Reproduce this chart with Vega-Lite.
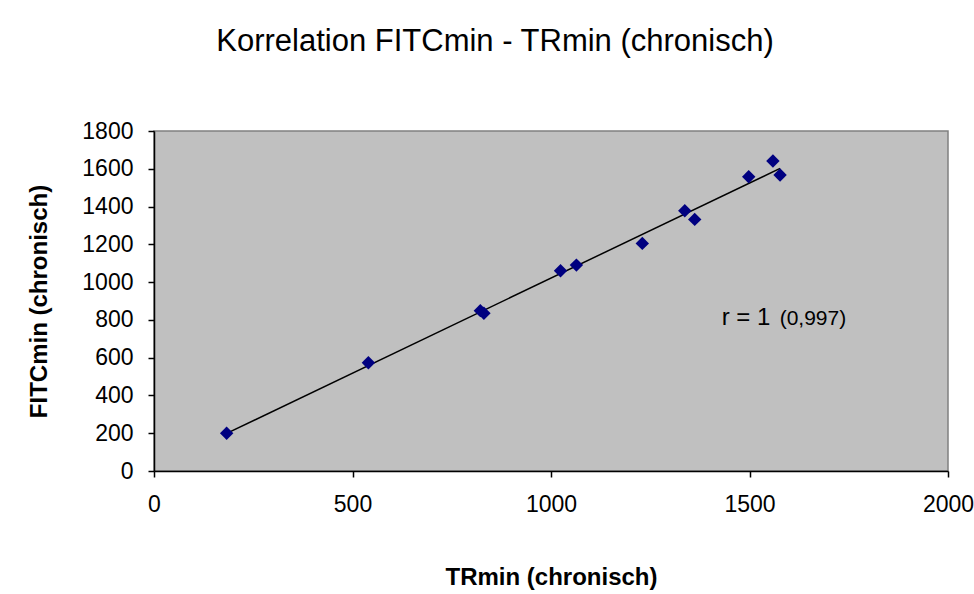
{
  "$schema": "https://vega.github.io/schema/vega-lite/v6.json",
  "width": 794,
  "height": 340,
  "autosize": {"type": "none"},
  "padding": {"left": 154, "top": 131, "right": 26, "bottom": 123},
  "background": "white",
  "config": {
    "view": {"fill": "#C0C0C0", "stroke": "#808080", "strokeWidth": 1.5},
    "font": "Liberation Sans"
  },
  "title": {
    "text": "Korrelation FITCmin - TRmin (chronisch)",
    "fontSize": 31,
    "font": "Liberation Sans",
    "fontWeight": "normal",
    "color": "black",
    "anchor": "middle",
    "dx": -56,
    "offset": 62
  },
  "data": {
    "values": [
      {"TR": 183, "FITC": 200},
      {"TR": 540, "FITC": 573},
      {"TR": 822, "FITC": 849},
      {"TR": 831, "FITC": 835},
      {"TR": 1024, "FITC": 1060},
      {"TR": 1064, "FITC": 1090},
      {"TR": 1230, "FITC": 1205},
      {"TR": 1337, "FITC": 1378},
      {"TR": 1362, "FITC": 1332},
      {"TR": 1498, "FITC": 1558},
      {"TR": 1559, "FITC": 1641},
      {"TR": 1577, "FITC": 1567}
    ]
  },
  "layer": [
    {
      "transform": [{"regression": "FITC", "on": "TR"}],
      "mark": {"type": "line", "color": "black", "strokeWidth": 1.5},
      "encoding": {
        "x": {"field": "TR", "type": "quantitative"},
        "y": {"field": "FITC", "type": "quantitative"}
      }
    },
    {
      "mark": {"type": "point", "shape": "diamond", "filled": true, "color": "#000080", "size": 180, "opacity": 1},
      "encoding": {
        "x": {
          "field": "TR",
          "type": "quantitative",
          "scale": {"domain": [0, 2000], "nice": false, "zero": true},
          "axis": {
            "title": "TRmin (chronisch)",
            "values": [0, 500, 1000, 1500, 2000],
            "tickCount": 20,
            "format": "d",
            "labelOverlap": false,
            "grid": false,
            "domainColor": "black",
            "domainWidth": 1.5,
            "tickColor": "black",
            "tickWidth": 1.5,
            "tickSize": 6,
            "labelPadding": 16,
            "labelFontSize": 23,
            "labelColor": "black",
            "labelFont": "Liberation Sans",
            "labelFlush": false,
            "titleFontSize": 24,
            "titleFont": "Liberation Sans",
            "titleFontWeight": "bold",
            "titleColor": "black",
            "titlePadding": 49
          }
        },
        "y": {
          "field": "FITC",
          "type": "quantitative",
          "scale": {"domain": [0, 1800], "nice": false},
          "axis": {
            "title": "FITCmin (chronisch)",
            "values": [0, 200, 400, 600, 800, 1000, 1200, 1400, 1600, 1800],
            "tickCount": 20,
            "format": "d",
            "labelOverlap": false,
            "grid": false,
            "domainColor": "black",
            "domainWidth": 1.5,
            "tickColor": "black",
            "tickWidth": 1.5,
            "tickSize": 6,
            "labelPadding": 15,
            "labelFontSize": 23,
            "labelColor": "black",
            "labelFont": "Liberation Sans",
            "labelFlush": false,
            "titleFontSize": 24,
            "titleFont": "Liberation Sans",
            "titleFontWeight": "bold",
            "titleColor": "black",
            "titlePadding": 30
          }
        }
      }
    },
    {
      "data": {"values": [{}]},
      "mark": {"type": "text", "text": "r = 1", "fontSize": 24, "align": "left", "baseline": "alphabetic", "font": "Liberation Sans", "color": "black"},
      "encoding": {"x": {"datum": 1430}, "y": {"datum": 773}}
    },
    {
      "data": {"values": [{}]},
      "mark": {"type": "text", "text": "(0,997)", "fontSize": 21, "align": "left", "baseline": "alphabetic", "font": "Liberation Sans", "color": "black"},
      "encoding": {"x": {"datum": 1576}, "y": {"datum": 773}}
    }
  ]
}
